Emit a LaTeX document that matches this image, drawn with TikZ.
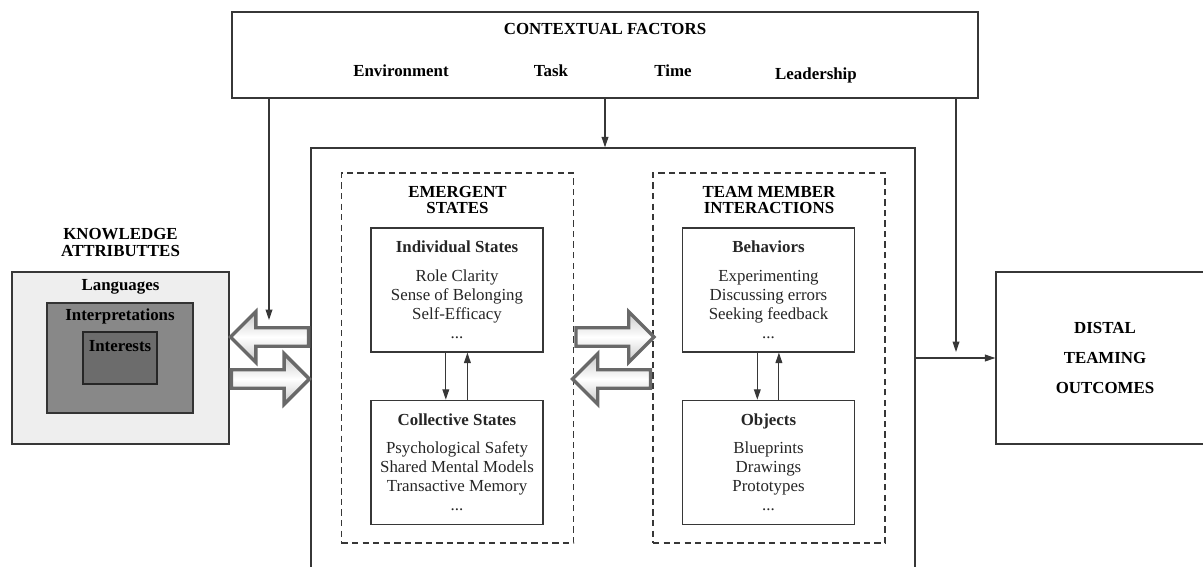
\documentclass[tikz,border=0pt]{standalone}
\usepackage{fontspec}
\setmainfont{Liberation Serif}
\usepackage{xcolor}
\definecolor{LineColor}{RGB}{55,55,55}
\definecolor{OuterFill}{RGB}{238,238,238}
\definecolor{MidFill}{RGB}{136,136,136}
\definecolor{InnerFill}{RGB}{108,108,108}
\definecolor{ArrowEdge}{RGB}{105,105,105}
\definecolor{ArrowFill}{RGB}{200,200,200}
\usetikzlibrary{positioning, shapes, arrows.meta, calc}

\begin{document}
\begin{tikzpicture}[
    x=0.025cm, y=-0.025cm,
    every node/.style={font=\fontsize{12}{13.5}\selectfont, text=black!85},
    box/.style={rectangle, draw=LineColor, line width=0.9pt, inner sep=0pt},
    statebox/.style={box, minimum width=4.3cm, minimum height=3.1cm, align=center},
    group/.style={rectangle, draw=LineColor, line width=1.1pt, dash pattern=on 4.5pt off 3pt, minimum width=5.8cm, minimum height=9.25cm},
    head/.style={font=\fontsize{12}{11.5}\selectfont\bfseries, align=center, inner sep=0pt, text=black},
    tag/.style={font=\fontsize{12}{13.5}\selectfont\bfseries, inner sep=0pt, text=black},
    arrow/.style={-{Triangle[length=2.6mm, width=1.7mm]}, line width=0.8pt, draw=LineColor},
    fat/.style={single arrow, draw=ArrowEdge, line width=2.4pt, inner xsep=0pt, inner ysep=0.19cm,
        single arrow head extend=0.4cm, minimum height=1.95cm,
        top color=ArrowFill, bottom color=ArrowFill, middle color=white},
]
\useasboundingbox (0,0) rectangle (1203,566);
\clip (0,0) rectangle (1203,566);

% Contextual factors
\node[box, minimum width=18.65cm, minimum height=2.15cm] (ctx) at (605,55) {};
\node[tag, below=0.3cm of ctx.north] (ctxtitle) {CONTEXTUAL FACTORS};
\node[tag, anchor=base] (env) at (401,76) {Environment};
\node[tag, anchor=base] (task) at (551,76) {Task};
\node[tag, anchor=base] (time) at (673,76) {Time};
\node[tag, anchor=base] (lead) at (816,79) {Leadership};

% Team (runs past the bottom edge)
\node[box, minimum width=15.1cm, minimum height=11.8cm] (team) at (613,384) {};

% Emergent states
\node[group] (emerg) at (457.5,358) {};
\node[head, below=0.35cm of emerg.north] (emergtitle) {EMERGENT\\STATES};
\node[statebox] (indiv) at (457,290) {
    \textbf{Individual States}\\[7pt]
    Role Clarity\\
    Sense of Belonging\\
    Self-Efficacy\\
    ...
};
\node[statebox, below=1.175cm of indiv] (collect) {
    \textbf{Collective States}\\[7pt]
    Psychological Safety\\
    Shared Mental Models\\
    Transactive Memory\\
    ...
};

% Member interactions
\node[group] (interact) at (769,358) {};
\node[head, below=0.35cm of interact.north] (interacttitle) {TEAM MEMBER\\INTERACTIONS};
\node[statebox] (behav) at (768.5,290) {
    \textbf{Behaviors}\\[7pt]
    Experimenting\\
    Discussing errors\\
    Seeking feedback\\
    ...
};
\node[statebox, below=1.175cm of behav] (objects) {
    \textbf{Objects}\\[7pt]
    Blueprints\\
    Drawings\\
    Prototypes\\
    ...
};

% Knowledge attributes
\node[box, fill=OuterFill, minimum width=5.425cm, minimum height=4.3cm] (know) at (120.5,358) {};
\node[box, fill=MidFill, draw=black!80, minimum width=3.65cm, minimum height=2.75cm] (interp) at (120,358) {};
\node[box, fill=InnerFill, draw=black!85, minimum width=1.85cm, minimum height=1.3cm] (interests) at (120,358) {};
\node[head, above=0.37cm of know.north] (knowtitle) {KNOWLEDGE\\ATTRIBUTTES};
\node[tag, below=0.2cm of know.north] (lang) {Languages};
\node[tag, below=0.15cm of interp.north] (interptext) {Interpretations};
\node[tag, below=0.22cm of interests.north] (intereststext) {Interests};

% Distal outcomes (runs past the right edge)
\node[box, minimum width=5.45cm, minimum height=4.3cm, align=center,
    font=\fontsize{12}{21.5}\selectfont\bfseries, text=black] (dist) at (1105,358) {DISTAL\\TEAMING\\OUTCOMES};

% Hollow arrows
\node[fat, shape border rotate=180, anchor=tail] (kback) at ($(know.east -| team.west)+(0,-21)$) {};
\node[fat, anchor=tail] (kfwd) at ($(know.east)+(0,21)$) {};
\node[fat, anchor=tail] (sfwd) at ($(emerg.east)+(0,-21)$) {};
\node[fat, shape border rotate=180, anchor=tail] (sback) at ($(interact.west)+(0,21)$) {};

% Arrows between state boxes
\draw[arrow] ([xshift=-0.28cm]indiv.south) -- ([xshift=-0.28cm]collect.north);
\draw[arrow] ([xshift=0.26cm]collect.north) -- ([xshift=0.26cm]indiv.south);
\draw[arrow] ([xshift=-0.28cm]behav.south) -- ([xshift=-0.28cm]objects.north);
\draw[arrow] ([xshift=0.26cm]objects.north) -- ([xshift=0.26cm]behav.south);

% Arrows from context
\coordinate (kdrop) at (269,320);
\coordinate (ddrop) at (956,352);
\draw[arrow] (kdrop |- ctx.south) -- (kdrop);
\draw[arrow] (ctx.south) -- (ctx.south |- team.north);
\draw[arrow] (ddrop |- ctx.south) -- (ddrop);

% Arrow to outcomes
\draw[arrow] (team.east |- dist.west) -- (dist.west);

\end{tikzpicture}
\end{document}
